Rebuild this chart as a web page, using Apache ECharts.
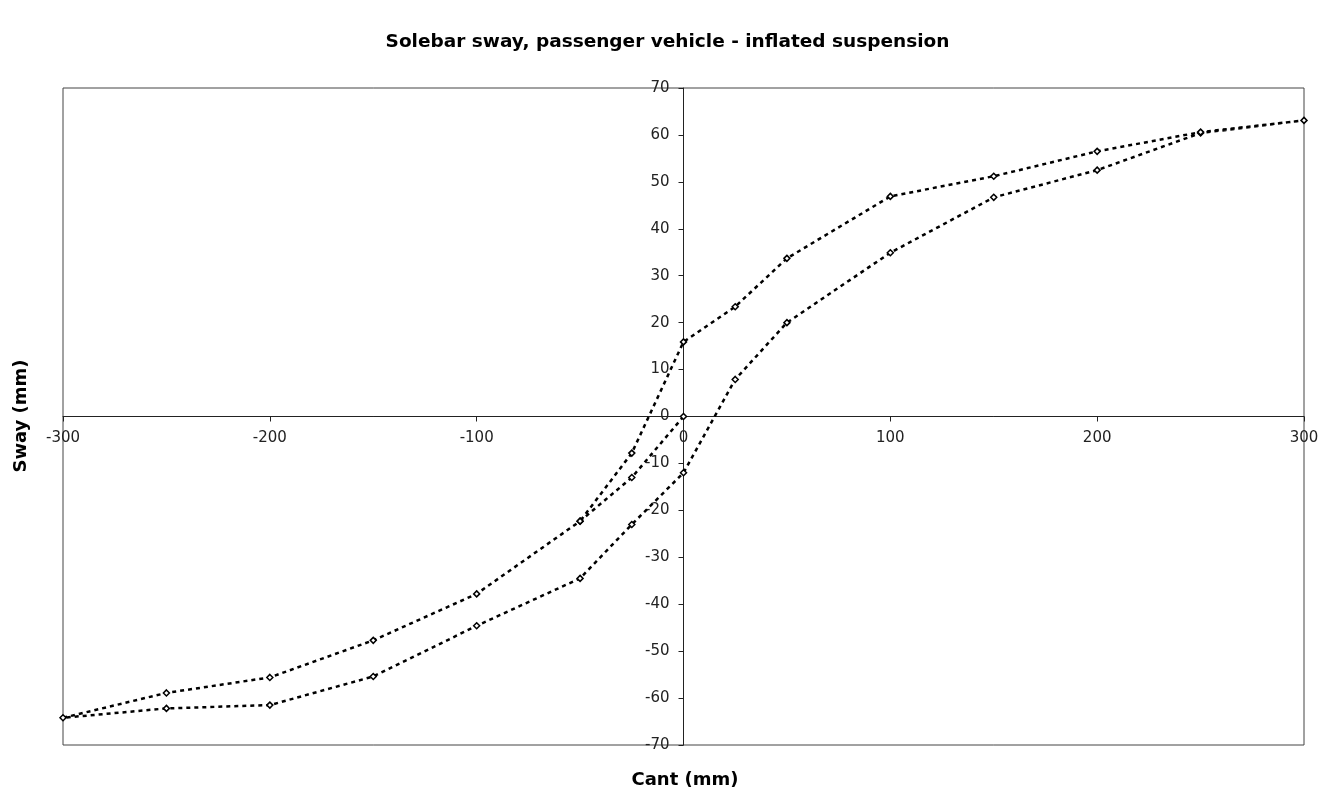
<!DOCTYPE html>
<html>
<head>
<meta charset="utf-8">
<script src="https://cdn.jsdelivr.net/npm/echarts@6/dist/echarts.min.js"></script>
<style>
  html, body { margin: 0; padding: 0; background: #fff; }
  #chart { width: 1335px; height: 796px; }
</style>
</head>
<body>
<div id="chart"></div>
<script>
var chartDom = document.getElementById('chart');
var myChart = echarts.init(chartDom);
var option;

// cant (mm) and sway (mm), in the order the test was run
var cant = [0, -25, -50, -100, -150, -200, -250, -300,
  -250, -200, -150, -100, -50, -25, 0, 25, 50, 100, 150, 200, 250, 300,
  250, 200, 150, 100, 50, 25, 0, -25, -50];
var sway = [0, -13, -22.3, -37.8, -47.7, -55.6, -58.9, -64.2,
  -62.2, -61.5, -55.4, -44.6, -34.5, -23, -12, 7.9, 20, 34.9, 46.7, 52.5, 60.4, 63.1,
  60.6, 56.5, 51.2, 46.9, 33.7, 23.4, 15.9, -7.8, -22.3];

var points = [];
for (var i = 0; i < cant.length; i++) {
  points.push([cant[i], sway[i]]);
}

var FONT = 'DejaVu Sans';
var nameStyle = { fontFamily: FONT, fontSize: 18, fontWeight: 'bold', fill: '#000' };

// grid box; the axes are pushed in to the middle so they cross at (0, 0)
var W = 1335, H = 796;
var G = { left: 63, right: 31, top: 88, bottom: 51 };
var plotW = W - G.left - G.right;
var plotH = H - G.top - G.bottom;

option = {
  backgroundColor: '#fff',
  animation: false,
  title: {
    text: 'Solebar sway, passenger vehicle - inflated suspension',
    left: 'center',
    top: 28,
    textStyle: { fontFamily: FONT, fontSize: 18.5, fontWeight: 'bold', color: '#000' }
  },
  graphic: [
    {
      type: 'text',
      x: 685,
      y: 780,
      style: Object.assign({ text: 'Cant (mm)', align: 'center', verticalAlign: 'middle' }, nameStyle)
    },
    {
      type: 'text',
      x: 21,
      y: 416,
      rotation: Math.PI / 2,
      style: Object.assign({ text: 'Sway (mm)', align: 'center', verticalAlign: 'middle' }, nameStyle)
    }
  ],
  grid: {
    left: G.left,
    right: G.right,
    top: G.top,
    bottom: G.bottom,
    show: true,
    borderColor: '#444',
    borderWidth: 1
  },
  xAxis: {
    type: 'value',
    position: 'bottom',
    offset: -plotH / 2,
    min: -300,
    max: 300,
    interval: 100,
    axisLine: { onZero: false, lineStyle: { color: '#222', width: 1 } },
    axisTick: { show: true, length: 5, lineStyle: { color: '#222' } },
    axisLabel: { margin: 14, fontFamily: FONT, fontSize: 15, color: '#222' },
    splitLine: { show: false }
  },
  yAxis: {
    type: 'value',
    position: 'left',
    offset: -plotW / 2,
    min: -70,
    max: 70,
    interval: 10,
    axisLine: { onZero: false, lineStyle: { color: '#222', width: 1 } },
    axisTick: { show: true, length: 5, lineStyle: { color: '#222' } },
    axisLabel: { margin: 14, fontFamily: FONT, fontSize: 15, color: '#222' },
    splitLine: { show: false }
  },
  series: [
    {
      type: 'line',
      data: points,
      symbol: 'diamond',
      symbolSize: 6,
      itemStyle: { color: '#fff', borderColor: '#000', borderWidth: 1.5 },
      lineStyle: { color: '#000', width: 2.5, type: [4, 4] }
    }
  ]
};

option && myChart.setOption(option);
</script>
</body>
</html>
